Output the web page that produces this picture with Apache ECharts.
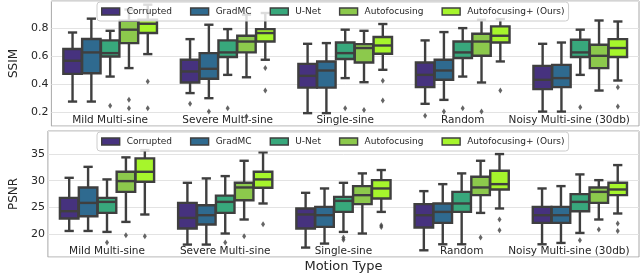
<!DOCTYPE html>
<html><head><meta charset="utf-8">
<script src="https://cdn.jsdelivr.net/npm/echarts@6/dist/echarts.min.js"></script>
<style>html,body{margin:0;padding:0;background:#fff}#c{width:640px;height:274px}</style>
</head><body><div id="c"></div>
<script>
// ---------- data ----------
const categories = ['Mild Multi-sine', 'Severe Multi-sine', 'Single-sine', 'Random', 'Noisy Multi-sine (30db)'];
const methods = ['Corrupted', 'GradMC', 'U-Net', 'Autofocusing', 'Autofocusing+ (Ours)'];
const ssimTicks = [0.2, 0.4, 0.6, 0.8];
const psnrTicks = [20, 25, 30, 35];

// [min whisker, Q1, median, Q3, max whisker] per category
const ssimCorrupted = [[0.278,0.474,0.567,0.650,0.767],[0.338,0.413,0.491,0.574,0.720],[0.196,0.377,0.460,0.545,0.687],[0.262,0.380,0.467,0.555,0.711],[0.207,0.366,0.432,0.531,0.687]];
const ssimGradMC    = [[0.278,0.479,0.626,0.721,0.865],[0.302,0.439,0.510,0.621,0.822],[0.196,0.377,0.498,0.562,0.692],[0.290,0.432,0.498,0.574,0.770],[0.207,0.380,0.444,0.538,0.696]];
const ssimUNet      = [[0.455,0.597,0.621,0.711,0.779],[0.467,0.593,0.626,0.711,0.791],[0.444,0.579,0.621,0.696,0.787],[0.455,0.586,0.626,0.703,0.798],[0.467,0.593,0.626,0.716,0.787]];
const ssimAuto      = [[0.515,0.692,0.787,0.850,0.930],[0.450,0.626,0.703,0.744,0.893],[0.415,0.555,0.657,0.685,0.779],[0.413,0.602,0.703,0.758,0.857],[0.356,0.515,0.602,0.680,0.852]];
const ssimAutoPlus  = [[0.614,0.763,0.829,0.857,0.964],[0.574,0.703,0.763,0.791,0.905],[0.503,0.616,0.675,0.735,0.827],[0.562,0.696,0.744,0.810,0.862],[0.427,0.593,0.657,0.720,0.845]];
// outliers: [category index, value]
const ssimOutCorrupted = [[1,0.262],[3,0.177]];
const ssimOutGradMC    = [[1,0.207],[3,0.207]];
const ssimOutUNet      = [[0,0.248],[1,0.231],[2,0.231],[3,0.231],[4,0.238]];
const ssimOutAuto      = [[0,0.290],[0,0.231],[1,0.172],[2,0.219],[3,0.207]];
const ssimOutAutoPlus  = [[0,0.420],[0,0.231],[1,0.515],[1,0.356],[2,0.425],[2,0.285],[3,0.356],[4,0.380],[4,0.243]];

const psnrCorrupted = [[20.56,22.90,24.27,26.78,30.54],[18.00,21.02,23.01,25.83,29.60],[17.44,21.02,23.65,24.78,27.72],[16.93,21.20,23.52,25.59,28.04],[18.06,22.07,23.52,25.08,28.54]];
const psnrGradMC    = [[20.56,23.33,25.83,28.73,32.60],[18.00,21.77,23.52,25.40,30.43],[18.19,21.32,23.52,25.08,28.54],[18.06,22.07,24.14,25.72,29.35],[18.31,22.07,23.52,25.08,28.98]];
const psnrUNet      = [[20.38,23.95,26.02,26.78,30.24],[20.08,23.95,26.02,27.20,30.86],[20.38,24.14,26.21,26.96,29.60],[18.06,24.14,25.72,27.90,31.37],[20.19,24.27,26.02,27.47,31.18]];
const psnrAuto      = [[22.26,27.90,29.92,31.67,34.38],[22.71,26.34,28.73,29.60,33.74],[20.08,25.59,27.28,28.98,31.37],[23.95,27.28,28.73,30.73,33.74],[22.71,25.83,27.90,28.73,30.10]];
const psnrAutoPlus  = [[23.65,29.79,31.67,34.19,35.75],[25.72,28.66,30.24,31.67,35.32],[24.14,26.66,28.54,30.10,32.00],[24.78,28.35,29.35,31.86,35.00],[23.84,27.28,28.35,29.60,32.93]];
const psnrOutCorrupted = [];
const psnrOutGradMC    = [];
const psnrOutUNet      = [[0,18.38],[1,18.38],[2,19.32],[2,18.90],[4,18.81]];
const psnrOutAuto      = [[0,19.76],[1,19.57],[3,19.32],[4,20.83]];
const psnrOutAutoPlus  = [[0,19.57],[1,21.83],[2,21.64],[2,21.30],[3,22.71],[3,20.70],[4,21.96],[4,20.56]];

// ---------- styling / layout ----------
const colors = ['#46327e', '#2f6a8f', '#38a87c', '#8cc94c', '#a6f52c'];
const edge = '#3f3f3f';
const gridLeft = 31, gridRight = 1;
const hueWidth = 0.16;            // fraction of a category band per hue (seaborn width 0.8 / 5)
const offsetUnits = methods.map((m, i) => (i - (methods.length - 1) / 2) * hueWidth);
const LW = 2.4;

const ssimSets = [ssimCorrupted, ssimGradMC, ssimUNet, ssimAuto, ssimAutoPlus];
const ssimOuts = [ssimOutCorrupted, ssimOutGradMC, ssimOutUNet, ssimOutAuto, ssimOutAutoPlus];
const psnrSets = [psnrCorrupted, psnrGradMC, psnrUNet, psnrAuto, psnrAutoPlus];
const psnrOuts = [psnrOutCorrupted, psnrOutGradMC, psnrOutUNet, psnrOutAuto, psnrOutAutoPlus];

const font = 'DejaVu Sans';
const txt = '#262626';

function catAxis(gridIndex, withName) {
  return {
    type: 'category', gridIndex,
    data: categories.map((c, i) => i === categories.length - 1 ? { value: c, textStyle: { padding: [0, 22, 0, 0] } } : c),
    axisLine: { show: false }, axisTick: { show: false }, splitLine: { show: false },
    axisLabel: { inside: true, margin: 0, fontFamily: font, fontSize: 10.5, color: txt, interval: 0 },
    name: withName ? 'Motion Type' : '', nameLocation: 'middle', nameGap: 3,
    nameTextStyle: { fontFamily: font, fontSize: 13, color: txt }
  };
}
function valXAxis(gridIndex) {
  return { type: 'value', gridIndex, min: -0.5, max: categories.length - 0.5, show: false };
}
function yAx(gridIndex, name, min, max, ticks) {
  return {
    type: 'value', gridIndex, name, nameLocation: 'middle', nameGap: 21,
    nameTextStyle: { fontFamily: font, fontSize: 12, color: txt },
    min, max,
    axisLine: { show: false }, axisTick: { show: false },
    splitLine: { lineStyle: { color: '#e3e3e3', width: 1 } },
    axisLabel: {
      fontFamily: font, fontSize: 11, color: txt, margin: 3,
      showMinLabel: false, showMaxLabel: false,
      formatter: v => ticks.some(t => Math.abs(t - v) < 1e-6) ? String(v) : ''
    }
  };
}

function boxRenderer(i) {
  return function (params, api) {
    const c = api.value(0);
    const bandW = api.size([1, 0])[0];
    const dx = offsetUnits[i] * bandW;
    const half = hueWidth * bandW * 0.98 / 2;
    const cap = half / 2;
    const cx = api.coord([c, api.value(1)])[0] + dx;
    const y = k => api.coord([c, api.value(k)])[1];
    const yMin = y(1), yQ1 = y(2), yMed = y(3), yQ3 = y(4), yMax = y(5);
    const ls = { stroke: edge, lineWidth: LW, fill: null };
    return {
      type: 'group',
      children: [
        { type: 'line', shape: { x1: cx, y1: yQ1, x2: cx, y2: yMin }, style: ls },
        { type: 'line', shape: { x1: cx, y1: yQ3, x2: cx, y2: yMax }, style: ls },
        { type: 'line', shape: { x1: cx - cap, y1: yMin, x2: cx + cap, y2: yMin }, style: ls },
        { type: 'line', shape: { x1: cx - cap, y1: yMax, x2: cx + cap, y2: yMax }, style: ls },
        { type: 'rect', shape: { x: cx - half, y: yQ3, width: 2 * half, height: yQ1 - yQ3 },
          style: { fill: colors[i], stroke: edge, lineWidth: LW } },
        { type: 'line', shape: { x1: cx - half, y1: yMed, x2: cx + half, y2: yMed }, style: ls }
      ]
    };
  };
}

const series = [];
function addPanel(sets, outs, xCat, xVal, yIdx) {
  methods.forEach((m, i) => {
    series.push({
      name: m, type: 'custom', xAxisIndex: xCat, yAxisIndex: yIdx, z: 2,
      renderItem: boxRenderer(i),
      itemStyle: { color: colors[i] },
      encode: { x: 0, y: [1, 2, 3, 4, 5] },
      data: sets[i].map((d, k) => [k].concat(d))
    });
  });
  methods.forEach((m, i) => {
    series.push({
      name: 'outliers-' + m, type: 'scatter', xAxisIndex: xVal, yAxisIndex: yIdx,
      symbol: 'diamond', symbolSize: [4, 6], z: 3,
      itemStyle: { color: edge },
      data: outs[i].map(p => [p[0] + offsetUnits[i], p[1]])
    });
  });
}
addPanel(ssimSets, ssimOuts, 0, 1, 0);
addPanel(psnrSets, psnrOuts, 2, 3, 1);

function legend(top) {
  return {
    left: 97, top, z: 20, zlevel: 1,
    data: methods.map((m, i) => ({ name: m, itemStyle: { color: colors[i], borderColor: edge, borderWidth: 1.4 } })),
    icon: 'rect', itemWidth: 18, itemHeight: 7, itemGap: 18,
    textStyle: { fontFamily: font, fontSize: 9, color: txt, padding: [0, 0, 0, 2] },
    backgroundColor: 'rgba(255,255,255,0.82)', borderColor: '#cccccc', borderWidth: 1, borderRadius: 3,
    padding: [5, 4, 5, 4], selectedMode: false
  };
}

const option = {
  animation: false,
  backgroundColor: '#ffffff',
  grid: [
    { left: gridLeft, right: gridRight, top: 1, height: 125, show: true, borderColor: '#a8a8a8', borderWidth: 1, backgroundColor: '#fff' },
    { left: gridLeft, right: gridRight, top: 131, height: 126, show: true, borderColor: '#a8a8a8', borderWidth: 1, backgroundColor: '#fff' }
  ],
  xAxis: [catAxis(0, false), valXAxis(0), catAxis(1, true), valXAxis(1)],
  yAxis: [yAx(0, 'SSIM', 0.105, 0.99, ssimTicks), yAx(1, 'PSNR', 15.67, 39.33, psnrTicks)],
  legend: [legend(2), legend(132)],
  series
};
echarts.init(document.getElementById('c'), null, { renderer: 'canvas' }).setOption(option);
</script>
</body></html>
